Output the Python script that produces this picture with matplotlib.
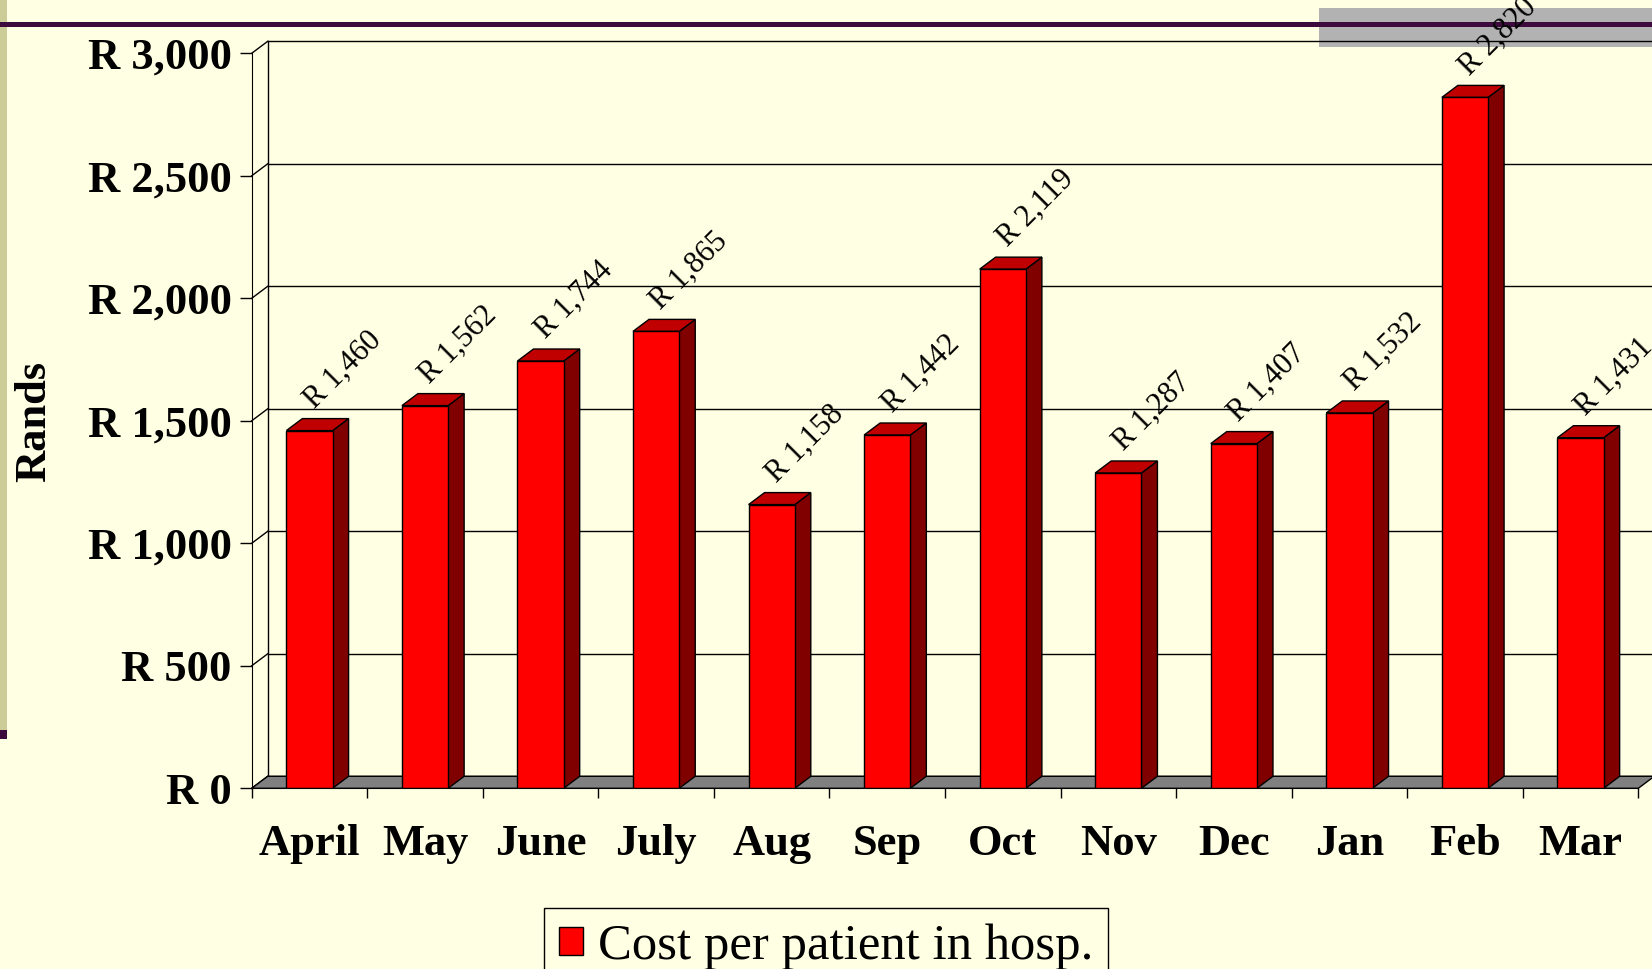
import matplotlib
matplotlib.use("Agg")
import matplotlib.pyplot as plt
from matplotlib.patches import Polygon, Rectangle

# chart data
months = ["April", "May", "June", "July", "Aug", "Sep", "Oct", "Nov", "Dec", "Jan", "Feb", "Mar"]
cost = [1460, 1562, 1744, 1865, 1158, 1442, 2119, 1287, 1407, 1532, 2820, 1431]
yticks = [0, 500, 1000, 1500, 2000, 2500, 3000]
ytick_labels = ["R 0", "R 500", "R 1,000", "R 1,500", "R 2,000", "R 2,500", "R 3,000"]
series_name = "Cost per patient in hosp."

plt.rcParams['font.family'] = ['Liberation Serif', 'DejaVu Serif']

bg = '#FFFFE3'
W, H = 1652, 969
fig = plt.figure(figsize=(W / 100, H / 100), dpi=100, facecolor=bg)


# slide decorations, given in pixels from the top-left corner
def slide_rect(x, y, w, h, color, z):
    r = Rectangle((x / W, 1 - (y + h) / H), w / W, h / H, transform=fig.transFigure,
                  facecolor=color, edgecolor='none', zorder=z)
    fig.add_artist(r)


slide_rect(0, 0, 7, 730, '#CCCC99', -2)
slide_rect(0, 730, 7, 9, '#3D0A3D', -2)
slide_rect(1319, 8, W - 1319, 39, '#B2B2B2', -2)
slide_rect(0, 22, W, 4.5, '#3D0A3D', -1)

# plot area (front plane)
px_left, px_bottom, px_top = 251.7, 788.3, 53.3
cat_w = (1638.3 - px_left) / 12
ax = fig.add_axes([px_left / W, 1 - px_bottom / H, (W - px_left) / W, (px_bottom - px_top) / H])
ax.set_facecolor('none')
ax.set_xlim(0, (W - px_left) / cat_w)
ax.set_ylim(0, 3000)

# depth of the fake 3d box, in data units
dx = 16 / cat_w
dy = 12 * 3000 / (px_bottom - px_top)
n = len(months)

# back wall grid + side wall diagonals
for t in yticks:
    ax.plot([dx, n + dx], [t + dy, t + dy], color='black', lw=1, zorder=1, clip_on=False)
    ax.plot([0, dx], [t, t + dy], color='black', lw=1, zorder=1, clip_on=False)
ax.plot([dx, dx], [dy, 3000 + dy], color='black', lw=1, zorder=1, clip_on=False)

# floor
ax.add_patch(Polygon([(0, 0), (n, 0), (n + dx, dy), (dx, dy)], closed=True,
                     facecolor='#808080', edgecolor='black', lw=1, zorder=2, clip_on=False))

# bars: front faces via ax.bar, then side and top faces
centers = [i + 0.5 for i in range(n)]
bw = 0.4
bars = ax.bar(centers, cost, width=bw, color='#FF0000', edgecolor='black', linewidth=1,
              zorder=4, label=series_name)
for c, v in zip(centers, cost):
    xl, xr = c - bw / 2, c + bw / 2
    ax.add_patch(Polygon([(xr, 0), (xr + dx, dy), (xr + dx, v + dy), (xr, v)], closed=True,
                         facecolor='#800000', edgecolor='black', lw=1, zorder=3))
    ax.add_patch(Polygon([(xl, v), (xr, v), (xr + dx, v + dy), (xl + dx, v + dy)], closed=True,
                         facecolor='#C00000', edgecolor='black', lw=1, zorder=3))
    ax.text(c + 0.04, v + dy + 38, f"R {v:,}", rotation=45, rotation_mode='anchor', ha='left',
            va='baseline', fontsize=22, zorder=6, clip_on=False)

# axes
for s in ['top', 'right']:
    ax.spines[s].set_visible(False)
ax.spines['left'].set_bounds(0, 3000)
ax.spines['bottom'].set_bounds(0, n)
ax.spines['left'].set_zorder(5)
ax.spines['bottom'].set_zorder(5)

ax.set_yticks(yticks)
ax.set_yticklabels(ytick_labels, fontsize=32, fontweight='bold')
ax.tick_params(axis='y', length=8.6, width=1, pad=5.8, direction='out')

ax.set_xticks(range(n + 1))
ax.set_xticklabels([])
ax.set_xticks(centers, minor=True)
ax.set_xticklabels(months, minor=True, fontsize=32, fontweight='bold')
ax.tick_params(axis='x', which='major', length=7.2, width=1, direction='out')
ax.tick_params(axis='x', which='minor', length=0, pad=26)

fig.text(34 / W, 1 - 421 / H, "Rands", rotation=90, ha='center', va='center',
         fontsize=32, fontweight='bold')

leg = fig.legend(handles=[bars], labels=[series_name], loc='upper left',
                 bbox_to_anchor=(543.6 / W, 1 - 908 / H), borderaxespad=0, fontsize=36.5,
                 frameon=True, fancybox=False, edgecolor='black', facecolor=bg, framealpha=1,
                 handlelength=0.47, handleheight=0.47, handletextpad=0.3, borderpad=0.3)
leg.get_frame().set_linewidth(1)

fig.savefig("out.png", dpi=100, facecolor=bg)
